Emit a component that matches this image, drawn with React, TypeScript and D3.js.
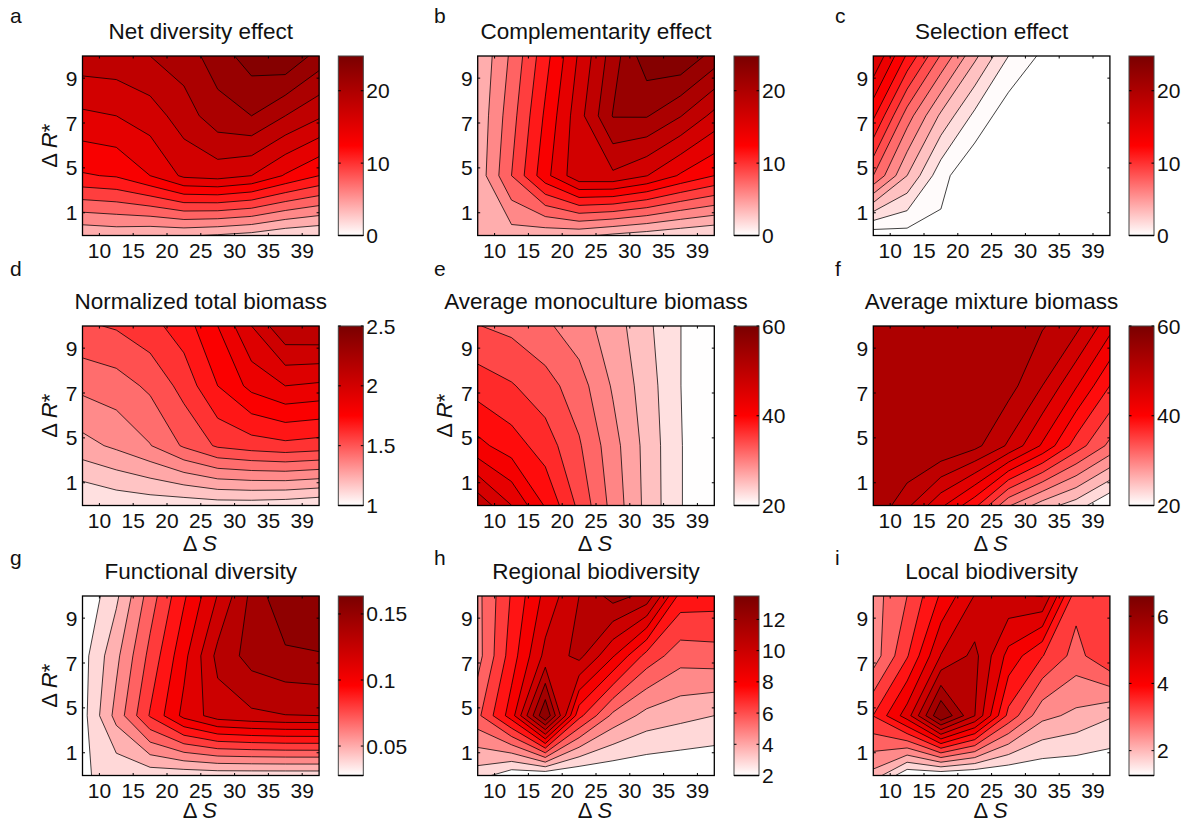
import React from "react";
import * as d3 from "d3";

const FONT = "'Liberation Sans', Arial, sans-serif";

// data columns / rows, bottom row first
const deltaS = [7.5, 12.5, 17.5, 22.5, 27.5, 32.5, 37.5, 42.5];
const rowIndex = [0, 1, 2, 3];
const xTickValues = [10, 15, 20, 25, 30, 35, 40];
const xTickLabels = ["10", "15", "20", "25", "30", "35", "39"];
const yTickRows = [0.38, 1.13, 1.88, 2.63];
const yTickLabels = ["1", "5", "7", "9"];

const netEffect = [
  [4.27, 4.54, 4.18, 4.18, 3.82, 3.37, 2.56, 2.2],
  [12.82, 13.18, 14.8, 16.96, 17.32, 16.6, 14.62, 13.0],
  [16.24, 16.6, 17.5, 19.3, 21.28, 22.0, 20.2, 18.67],
  [19.48, 19.57, 20.2, 21.1, 22.9, 24.7, 25.42, 23.08],
];
const complementarity = [
  [4.27, 4.99, 4.54, 4.36, 3.64, 3.1, 2.56, 2.11],
  [4.61, 9.4, 14.21, 17.95, 18.04, 16.65, 14.57, 13.0],
  [4.45, 8.68, 13.31, 17.73, 22.09, 22.13, 20.29, 17.86],
  [4.18, 7.96, 12.33, 16.87, 21.1, 24.97, 25.42, 23.08],
];
const selection = [
  [-0.74, -0.39, -0.18, -0.92, -0.92, -0.95, -0.95, -0.95],
  [8.6, 4.4, 0.68, -1.06, -0.99, -0.99, -0.99, -0.99],
  [13.08, 7.9, 4.12, 1.25, -0.71, -0.85, -0.92, -0.92],
  [17.0, 12.59, 8.46, 4.75, 1.6, -0.08, -0.36, -0.5],
];
const totalBiomass = [
  [1.08, 1.11, 1.12, 1.12, 1.13, 1.13, 1.12, 1.1],
  [1.315, 1.362, 1.426, 1.527, 1.613, 1.643, 1.662, 1.647],
  [1.452, 1.476, 1.532, 1.631, 1.77, 1.881, 1.94, 1.925],
  [1.587, 1.609, 1.656, 1.729, 1.855, 2.025, 2.187, 2.195],
];
const monoBiomass = [
  [50.3, 46.2, 41.2, 36.1, 31.1, 26.5, 22.6, 20.3],
  [42.1, 40.2, 37.9, 34.6, 30.5, 26.4, 22.6, 20.3],
  [38.0, 36.9, 35.3, 33.0, 29.3, 26.0, 22.5, 20.3],
  [34.4, 33.7, 32.4, 30.6, 28.4, 25.4, 22.5, 20.3],
];
const mixBiomass = [
  [54.8, 50.3, 44.9, 39.8, 31.3, 27.0, 24.3, 20.3],
  [56.4, 55.8, 55.0, 53.2, 49.3, 44.0, 37.8, 33.0],
  [57.7, 57.4, 56.9, 55.8, 53.4, 49.7, 44.6, 39.0],
  [57.7, 57.7, 57.2, 56.4, 55.0, 52.6, 50.5, 45.3],
];
const functional = [
  [0.0374, 0.0402, 0.0418, 0.0411, 0.0418, 0.0418, 0.0418, 0.0418],
  [0.0342, 0.0627, 0.0914, 0.1144, 0.127, 0.1301, 0.1319, 0.1322],
  [0.034, 0.0564, 0.0831, 0.1082, 0.1353, 0.1468, 0.151, 0.1524],
  [0.0287, 0.0465, 0.0747, 0.0993, 0.1223, 0.1453, 0.1625, 0.1625],
];
const regional = [
  [3.29, 2.27, 2.11, 2.04, 2.09, 2.09, 2.04, 2.0],
  [6.2, 8.64, 13.5, 7.58, 5.32, 4.35, 4.03, 3.77],
  [5.19, 7.75, 10.23, 11.12, 9.17, 6.98, 5.92, 6.03],
  [5.27, 7.4, 9.35, 10.85, 12.09, 11.47, 7.84, 7.75],
];
const local = [
  [2.34, 1.32, 1.32, 1.26, 1.26, 1.3, 1.31, 1.3],
  [3.73, 4.75, 6.59, 5.37, 3.6, 2.61, 2.39, 2.12],
  [2.67, 3.68, 4.97, 5.48, 4.4, 3.74, 3.15, 3.72],
  [2.72, 3.31, 4.19, 4.97, 5.28, 5.38, 3.47, 3.56],
];

// first entry of each list is the colour of the lowest band, the other 12 are contour lines
const levels = (start: number, step: number) => d3.range(13).map((i) => start + i * step);

const columnsX = [82.5, 477.7, 873.3];
const barsX = [338.3, 734, 1129];
const rowsY = [56, 326, 596];
const plotW = 236.6;
const plotH = 179.5;
const barW = 25;

const panels = [
  { id: "a", title: "Net diversity effect", z: netEffect, lv: levels(2.2, 1.8), clim: [0, 24.8], bar: [0, 10, 20], ylab: true, xlab: false, col: 0, row: 0 },
  { id: "b", title: "Complementarity effect", z: complementarity, lv: levels(2.2, 1.8), clim: [0, 24.8], bar: [0, 10, 20], ylab: false, xlab: false, col: 1, row: 0 },
  { id: "c", title: "Selection effect", z: selection, lv: levels(-1.2, 1.4), clim: [0, 24.8], bar: [0, 10, 20], ylab: false, xlab: false, col: 2, row: 0 },
  { id: "d", title: "Normalized total biomass", z: totalBiomass, lv: levels(1.09, 0.085), clim: [1, 2.5], bar: [1, 1.5, 2, 2.5], ylab: true, xlab: true, col: 0, row: 1 },
  { id: "e", title: "Average monoculture biomass", z: monoBiomass, lv: levels(20.1, 2.37), clim: [20, 60], bar: [20, 40, 60], ylab: true, xlab: true, col: 1, row: 1 },
  { id: "f", title: "Average mixture biomass", z: mixBiomass, lv: levels(20.33, 2.67), clim: [20, 60], bar: [20, 40, 60], ylab: false, xlab: true, col: 2, row: 1 },
  { id: "g", title: "Functional diversity", z: functional, lv: levels(0.0277, 0.01045), clim: [0.0277, 0.1636], bar: [0.05, 0.1, 0.15], ylab: true, xlab: true, col: 0, row: 2 },
  { id: "h", title: "Regional biodiversity", z: regional, lv: levels(2, 0.885), clim: [2, 13.5], bar: [2, 4, 6, 8, 10, 12], ylab: false, xlab: true, col: 1, row: 2 },
  { id: "i", title: "Local biodiversity", z: local, lv: levels(1.26, 0.41), clim: [1.26, 6.6], bar: [2, 4, 6], ylab: false, xlab: true, col: 2, row: 2 },
];

const titleY = [39, 309, 579];
const letterY = [23, 276, 565];
const letterX = [10, 434, 835];
const xLabelGap = [45, 45, 42]; // bottom row sits right against the page edge
const tickSize = 21;
const labelSize = 22;

const Panel = ({ p }: { p: (typeof panels)[number] }) => {
  const left = columnsX[p.col];
  const top = rowsY[p.row];
  const barX = barsX[p.col];
  const x = d3.scaleLinear().domain([deltaS[0], deltaS[7]]).range([left, left + plotW]);
  const y = d3.scaleLinear().domain([rowIndex[0], rowIndex[3]]).range([top + plotH, top]);
  const mid = (p.clim[0] + p.clim[1]) / 2;
  const color = d3
    .scaleLinear<string>()
    .domain([p.clim[0], mid, p.clim[1]])
    .range(["#ffffff", "#ff0000", "#7a0000"])
    .clamp(true);
  const barY = d3.scaleLinear().domain(p.clim).range([top + plotH, top]);

  const nx = p.z[0].length;
  const ny = p.z.length;
  const gridToS = d3.scaleLinear().domain([0.5, nx - 0.5]).range([deltaS[0], deltaS[7]]);
  const contours = d3.contours().size([nx, ny]).thresholds(p.lv.slice(1));
  const path = d3.geoPath(
    d3.geoTransform({
      point(gx: number, gy: number) {
        this.stream.point(x(gridToS(gx)), y(gy - 0.5));
      },
    })
  );
  const bands = contours(p.z.flat());

  return (
    <g fontFamily={FONT} fill="#111">
      <clipPath id={`clip-${p.id}`}>
        <rect x={left} y={top} width={plotW} height={plotH} />
      </clipPath>
      <linearGradient id={`grad-${p.id}`} x1="0" y1="1" x2="0" y2="0">
        <stop offset="0" stopColor="#ffffff" />
        <stop offset="0.5" stopColor="#ff0000" />
        <stop offset="1" stopColor="#7a0000" />
      </linearGradient>

      <text x={letterX[p.col]} y={letterY[p.row]} fontSize={21}>{p.id}</text>
      <text x={left + plotW / 2} y={titleY[p.row]} fontSize={22.5} textAnchor="middle">{p.title}</text>

      <g clipPath={`url(#clip-${p.id})`}>
        <rect x={left} y={top} width={plotW} height={plotH} fill={color(p.lv[0])} />
        {bands.map((b, i) => (
          <path key={i} d={path(b) ?? ""} fill={color(p.lv[i + 1])} stroke="#000" strokeWidth={0.75} />
        ))}
      </g>
      <rect x={left} y={top} width={plotW} height={plotH} fill="none" stroke="#000" strokeWidth={1.3} />

      {xTickValues.map((t, i) => (
        <g key={t}>
          <line x1={x(t)} x2={x(t)} y1={top + plotH} y2={top + plotH - 2.5} stroke="#000" />
          <line x1={x(t)} x2={x(t)} y1={top} y2={top + 2.5} stroke="#000" />
          <text x={x(t)} y={top + plotH + 22.5} fontSize={tickSize} textAnchor="middle">{xTickLabels[i]}</text>
        </g>
      ))}
      {yTickRows.map((t, i) => (
        <g key={t}>
          <line x1={left} x2={left + 2.5} y1={y(t)} y2={y(t)} stroke="#000" />
          <line x1={left + plotW} x2={left + plotW - 2.5} y1={y(t)} y2={y(t)} stroke="#000" />
          <text x={left - 5} y={y(t) + 7.5} fontSize={tickSize} textAnchor="end">{yTickLabels[i]}</text>
        </g>
      ))}

      {p.ylab && (
        <text
          transform={`translate(${left - 26},${top + plotH / 2}) rotate(-90)`}
          fontSize={labelSize}
          textAnchor="middle"
        >
          Δ <tspan fontStyle="italic">R</tspan>*
        </text>
      )}
      {p.xlab && (
        <text x={left + plotW / 2 - 1} y={top + plotH + xLabelGap[p.row]} fontSize={labelSize} textAnchor="middle">
          Δ <tspan fontStyle="italic">S</tspan>
        </text>
      )}

      <rect x={barX} y={top} width={barW} height={plotH} fill={`url(#grad-${p.id})`} stroke="#444" strokeWidth={1} />
      <line x1={barX} x2={barX + barW} y1={top + plotH} y2={top + plotH} stroke="#000" strokeWidth={1.5} />
      {p.bar.map((t) => (
        <g key={t}>
          <line x1={barX} x2={barX + 2.5} y1={barY(t)} y2={barY(t)} stroke="#000" />
          <line x1={barX + barW} x2={barX + barW - 2.5} y1={barY(t)} y2={barY(t)} stroke="#000" />
          <text x={barX + barW + 3} y={barY(t) + 7.5} fontSize={tickSize}>{String(t)}</text>
        </g>
      ))}
    </g>
  );
};

export default function App() {
  return (
    <svg width={1188} height={822} style={{ position: "absolute", left: 0, top: 0, background: "#fff" }}>
      {panels.map((p) => (
        <Panel key={p.id} p={p} />
      ))}
    </svg>
  );
}
